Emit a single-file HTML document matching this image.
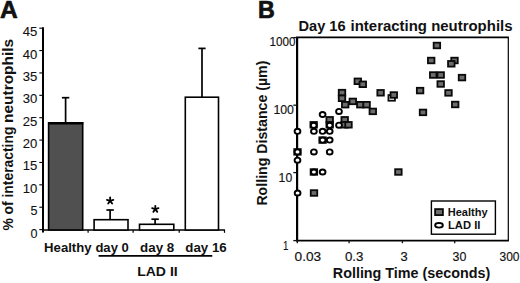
<!DOCTYPE html>
<html><head><meta charset="utf-8"><title>Figure</title>
<style>html,body{margin:0;padding:0;background:#fff;}svg{display:block;}text{font-family:"Liberation Sans",sans-serif;fill:#111;}</style>
</head><body>
<svg width="520" height="283" viewBox="0 0 520 283">
<rect width="520" height="283" fill="#fff"/>
<g id="panelA">
<text x="0" y="17.95" font-size="24.6" font-weight="bold" stroke="#111" stroke-width="0.7" stroke-linejoin="round">A</text>
<g transform="translate(13.2,230.6) rotate(-90)"><text x="0" y="0" font-size="14.5" font-weight="bold" textLength="104.00" lengthAdjust="spacingAndGlyphs" >% of interacting</text><text x="107.6" y="0" font-size="14.5" font-weight="bold" textLength="84.20" lengthAdjust="spacingAndGlyphs" >neutrophils</text></g>
<line x1="43" y1="27.3" x2="43" y2="232.6" stroke="#000" stroke-width="2"/>
<line x1="39.3" y1="229.60" x2="43" y2="229.60" stroke="#000" stroke-width="1.1"/>
<text x="30.4" y="237.6" font-size="13" font-weight="normal" textLength="7.00" lengthAdjust="spacingAndGlyphs" stroke="#111" stroke-width="0.1">0</text>
<line x1="39.3" y1="207.22" x2="43" y2="207.22" stroke="#000" stroke-width="1.1"/>
<text x="30.4" y="215.22" font-size="13" font-weight="normal" textLength="7.00" lengthAdjust="spacingAndGlyphs" stroke="#111" stroke-width="0.1">5</text>
<line x1="39.3" y1="184.84" x2="43" y2="184.84" stroke="#000" stroke-width="1.1"/>
<text x="22.799999999999997" y="192.84" font-size="13" font-weight="normal" textLength="14.60" lengthAdjust="spacingAndGlyphs" stroke="#111" stroke-width="0.1">10</text>
<line x1="39.3" y1="162.46" x2="43" y2="162.46" stroke="#000" stroke-width="1.1"/>
<text x="22.799999999999997" y="170.46" font-size="13" font-weight="normal" textLength="14.60" lengthAdjust="spacingAndGlyphs" stroke="#111" stroke-width="0.1">15</text>
<line x1="39.3" y1="140.08" x2="43" y2="140.08" stroke="#000" stroke-width="1.1"/>
<text x="22.799999999999997" y="148.08" font-size="13" font-weight="normal" textLength="14.60" lengthAdjust="spacingAndGlyphs" stroke="#111" stroke-width="0.1">20</text>
<line x1="39.3" y1="117.70" x2="43" y2="117.70" stroke="#000" stroke-width="1.1"/>
<text x="22.799999999999997" y="125.7" font-size="13" font-weight="normal" textLength="14.60" lengthAdjust="spacingAndGlyphs" stroke="#111" stroke-width="0.1">25</text>
<line x1="39.3" y1="95.32" x2="43" y2="95.32" stroke="#000" stroke-width="1.1"/>
<text x="22.799999999999997" y="103.32" font-size="13" font-weight="normal" textLength="14.60" lengthAdjust="spacingAndGlyphs" stroke="#111" stroke-width="0.1">30</text>
<line x1="39.3" y1="72.94" x2="43" y2="72.94" stroke="#000" stroke-width="1.1"/>
<text x="22.799999999999997" y="80.94" font-size="13" font-weight="normal" textLength="14.60" lengthAdjust="spacingAndGlyphs" stroke="#111" stroke-width="0.1">35</text>
<line x1="39.3" y1="50.56" x2="43" y2="50.56" stroke="#000" stroke-width="1.1"/>
<text x="22.799999999999997" y="58.56" font-size="13" font-weight="normal" textLength="14.60" lengthAdjust="spacingAndGlyphs" stroke="#111" stroke-width="0.1">40</text>
<line x1="39.3" y1="28.18" x2="43" y2="28.18" stroke="#000" stroke-width="1.1"/>
<text x="22.799999999999997" y="36.18" font-size="13" font-weight="normal" textLength="14.60" lengthAdjust="spacingAndGlyphs" stroke="#111" stroke-width="0.1">45</text>
<line x1="42" y1="230" x2="225" y2="230" stroke="#000" stroke-width="1.4"/>
<line x1="88.1" y1="230" x2="88.1" y2="232.8" stroke="#000" stroke-width="1.2"/>
<line x1="133.1" y1="230" x2="133.1" y2="232.8" stroke="#000" stroke-width="1.2"/>
<line x1="179.2" y1="230" x2="179.2" y2="232.8" stroke="#000" stroke-width="1.2"/>
<line x1="224.5" y1="230" x2="224.5" y2="232.8" stroke="#000" stroke-width="1.2"/>
<line x1="65.6" y1="97.7" x2="65.6" y2="122.8" stroke="#000" stroke-width="1.7"/>
<line x1="61.89999999999999" y1="97.7" x2="69.3" y2="97.7" stroke="#000" stroke-width="1.7"/>
<rect x="48.6" y="122.8" width="34.10" height="107.20" fill="#505050" stroke="#000" stroke-width="1.6"/>
<line x1="110.1" y1="210" x2="110.1" y2="219.7" stroke="#000" stroke-width="1.7"/>
<line x1="106.39999999999999" y1="210" x2="113.8" y2="210" stroke="#000" stroke-width="1.7"/>
<rect x="94.1" y="219.7" width="33.90" height="10.30" fill="#fff" stroke="#000" stroke-width="1.6"/>
<line x1="155.1" y1="219.2" x2="155.1" y2="224.3" stroke="#000" stroke-width="1.7"/>
<line x1="151.4" y1="219.2" x2="158.79999999999998" y2="219.2" stroke="#000" stroke-width="1.7"/>
<rect x="139.5" y="224.3" width="34.30" height="5.70" fill="#fff" stroke="#000" stroke-width="1.6"/>
<line x1="202" y1="48.4" x2="202" y2="97.2" stroke="#000" stroke-width="1.7"/>
<line x1="198.4" y1="48.4" x2="205.6" y2="48.4" stroke="#000" stroke-width="1.7"/>
<rect x="185.3" y="97.2" width="33.20" height="132.80" fill="#fff" stroke="#000" stroke-width="1.6"/>
<line x1="48" y1="123.2" x2="83.3" y2="123.2" stroke="#000" stroke-width="2.4"/>
<line x1="110.15" y1="200.85" x2="110.15" y2="197.50" stroke="#000" stroke-width="1.8" stroke-linecap="round"/><line x1="110.15" y1="200.85" x2="113.34" y2="199.81" stroke="#000" stroke-width="1.8" stroke-linecap="round"/><line x1="110.15" y1="200.85" x2="106.96" y2="199.81" stroke="#000" stroke-width="1.8" stroke-linecap="round"/><line x1="110.15" y1="200.85" x2="112.12" y2="203.56" stroke="#000" stroke-width="1.8" stroke-linecap="round"/><line x1="110.15" y1="200.85" x2="108.18" y2="203.56" stroke="#000" stroke-width="1.8" stroke-linecap="round"/>
<line x1="155.30" y1="209.15" x2="155.30" y2="205.80" stroke="#000" stroke-width="1.8" stroke-linecap="round"/><line x1="155.30" y1="209.15" x2="158.49" y2="208.11" stroke="#000" stroke-width="1.8" stroke-linecap="round"/><line x1="155.30" y1="209.15" x2="152.11" y2="208.11" stroke="#000" stroke-width="1.8" stroke-linecap="round"/><line x1="155.30" y1="209.15" x2="157.27" y2="211.86" stroke="#000" stroke-width="1.8" stroke-linecap="round"/><line x1="155.30" y1="209.15" x2="153.33" y2="211.86" stroke="#000" stroke-width="1.8" stroke-linecap="round"/>
<text x="44.1" y="252.0" font-size="12.9" font-weight="bold" textLength="47.50" lengthAdjust="spacingAndGlyphs" >Healthy</text>
<text x="95.4" y="252.0" font-size="12.9" font-weight="bold" textLength="33.40" lengthAdjust="spacingAndGlyphs" >day 0</text>
<text x="140.1" y="252.0" font-size="12.9" font-weight="bold" textLength="34.20" lengthAdjust="spacingAndGlyphs" >day 8</text>
<text x="185.3" y="252.0" font-size="12.9" font-weight="bold" textLength="41.40" lengthAdjust="spacingAndGlyphs" >day 16</text>
<line x1="98.6" y1="255.9" x2="212.3" y2="255.9" stroke="#000" stroke-width="1.8"/>
<text x="137.2" y="276" font-size="13.6" font-weight="bold" textLength="40.50" lengthAdjust="spacingAndGlyphs" >LAD II</text>
</g>
<g id="panelB">
<text x="258.1" y="18.05" font-size="24.6" textLength="16.8" lengthAdjust="spacingAndGlyphs" font-weight="bold" stroke="#111" stroke-width="0.7" stroke-linejoin="round">B</text>
<text x="298.5" y="31.0" font-size="14.5" font-weight="bold" textLength="47.10" lengthAdjust="spacingAndGlyphs" >Day 16</text><text x="350.6" y="31.0" font-size="14.5" font-weight="bold" textLength="161.90" lengthAdjust="spacingAndGlyphs" >interacting neutrophils</text>
<g transform="translate(267.4,205.6) rotate(-90)"><text x="0" y="0" font-size="14" font-weight="bold" textLength="145.00" lengthAdjust="spacingAndGlyphs" >Rolling Distance (µm)</text></g>
<line x1="296" y1="37.4" x2="508.9" y2="37.4" stroke="#000" stroke-width="1.6"/>
<line x1="508.3" y1="37.5" x2="508.3" y2="240.6" stroke="#000" stroke-width="1.2"/>
<line x1="297.1" y1="37" x2="297.1" y2="241.3" stroke="#000" stroke-width="2.2"/>
<line x1="296" y1="240.7" x2="508.9" y2="240.7" stroke="#000" stroke-width="1.7"/>
<line x1="293.3" y1="37.6" x2="297" y2="37.6" stroke="#111" stroke-width="1.3"/>
<line x1="293.3" y1="105.2" x2="297" y2="105.2" stroke="#111" stroke-width="1.3"/>
<line x1="293.3" y1="172.6" x2="297" y2="172.6" stroke="#111" stroke-width="1.3"/>
<line x1="293.3" y1="240.6" x2="297" y2="240.6" stroke="#111" stroke-width="1.3"/>
<line x1="297.3" y1="240.6" x2="297.3" y2="243.2" stroke="#111" stroke-width="1.3"/>
<line x1="349.1" y1="240.6" x2="349.1" y2="243.2" stroke="#111" stroke-width="1.3"/>
<line x1="402.4" y1="240.6" x2="402.4" y2="243.2" stroke="#111" stroke-width="1.3"/>
<line x1="454.7" y1="240.6" x2="454.7" y2="243.2" stroke="#111" stroke-width="1.3"/>
<text x="269.6" y="46.0" font-size="13.2" font-weight="normal" textLength="26.00" lengthAdjust="spacingAndGlyphs" stroke="#111" stroke-width="0.15">1000</text>
<text x="273.4" y="114.0" font-size="13.2" font-weight="normal" textLength="20.60" lengthAdjust="spacingAndGlyphs" stroke="#111" stroke-width="0.15">100</text>
<text x="278.6" y="181.8" font-size="13.2" font-weight="normal" textLength="13.60" lengthAdjust="spacingAndGlyphs" stroke="#111" stroke-width="0.15">10</text>
<text x="283.0" y="249.8" font-size="13.2" font-weight="normal" textLength="5.40" lengthAdjust="spacingAndGlyphs" stroke="#111" stroke-width="0.15">1</text>
<text x="294.6" y="260.5" font-size="13.6" font-weight="normal" textLength="26.60" lengthAdjust="spacingAndGlyphs" stroke="#111" stroke-width="0.15">0.03</text>
<text x="344.9" y="260.5" font-size="13.6" font-weight="normal" textLength="18.50" lengthAdjust="spacingAndGlyphs" stroke="#111" stroke-width="0.15">0.3</text>
<text x="400.6" y="260.5" font-size="13.6" font-weight="normal" textLength="7.20" lengthAdjust="spacingAndGlyphs" stroke="#111" stroke-width="0.15">3</text>
<text x="452.5" y="260.5" font-size="13.6" font-weight="normal" textLength="13.80" lengthAdjust="spacingAndGlyphs" stroke="#111" stroke-width="0.15">30</text>
<text x="499.5" y="260.5" font-size="13.6" font-weight="normal" textLength="20.00" lengthAdjust="spacingAndGlyphs" stroke="#111" stroke-width="0.15">300</text>
<text x="332.8" y="277.8" font-size="14.5" font-weight="bold" textLength="157.50" lengthAdjust="spacingAndGlyphs" >Rolling Time (seconds)</text>
<rect x="354.55" y="78.50" width="6.50" height="5.60" fill="#6c6c6c" stroke="#0a0a0a" stroke-width="1.8"/>
<rect x="359.55" y="81.50" width="6.50" height="5.60" fill="#6c6c6c" stroke="#0a0a0a" stroke-width="1.8"/>
<rect x="338.75" y="89.80" width="6.50" height="5.60" fill="#6c6c6c" stroke="#0a0a0a" stroke-width="1.8"/>
<rect x="338.75" y="95.50" width="6.50" height="5.60" fill="#6c6c6c" stroke="#0a0a0a" stroke-width="1.8"/>
<rect x="341.95" y="101.90" width="6.50" height="5.60" fill="#6c6c6c" stroke="#0a0a0a" stroke-width="1.8"/>
<rect x="349.55" y="98.60" width="6.50" height="5.60" fill="#6c6c6c" stroke="#0a0a0a" stroke-width="1.8"/>
<rect x="357.05" y="101.90" width="6.50" height="5.60" fill="#6c6c6c" stroke="#0a0a0a" stroke-width="1.8"/>
<rect x="363.35" y="101.90" width="6.50" height="5.60" fill="#6c6c6c" stroke="#0a0a0a" stroke-width="1.8"/>
<rect x="369.55" y="108.60" width="6.50" height="5.60" fill="#6c6c6c" stroke="#0a0a0a" stroke-width="1.8"/>
<rect x="377.35" y="90.00" width="6.50" height="5.60" fill="#6c6c6c" stroke="#0a0a0a" stroke-width="1.8"/>
<rect x="388.45" y="95.10" width="6.50" height="5.60" fill="#fff" stroke="#0a0a0a" stroke-width="1.8"/>
<rect x="390.55" y="92.20" width="6.50" height="5.60" fill="#6c6c6c" stroke="#0a0a0a" stroke-width="1.8"/>
<rect x="326.45" y="117.00" width="6.50" height="5.60" fill="#6c6c6c" stroke="#0a0a0a" stroke-width="1.8"/>
<rect x="341.45" y="117.00" width="6.50" height="5.60" fill="#6c6c6c" stroke="#0a0a0a" stroke-width="1.8"/>
<rect x="341.25" y="122.00" width="6.50" height="5.60" fill="#6c6c6c" stroke="#0a0a0a" stroke-width="1.8"/>
<rect x="345.25" y="122.00" width="6.50" height="5.60" fill="#6c6c6c" stroke="#0a0a0a" stroke-width="1.8"/>
<rect x="310.45" y="122.00" width="6.50" height="5.60" fill="#6c6c6c" stroke="#0a0a0a" stroke-width="1.8"/>
<rect x="326.45" y="122.00" width="6.50" height="5.60" fill="#6c6c6c" stroke="#0a0a0a" stroke-width="1.8"/>
<rect x="319.35" y="137.30" width="6.50" height="5.60" fill="#6c6c6c" stroke="#0a0a0a" stroke-width="1.8"/>
<rect x="294.25" y="149.10" width="6.50" height="5.60" fill="#6c6c6c" stroke="#0a0a0a" stroke-width="1.8"/>
<rect x="310.65" y="169.20" width="6.50" height="5.60" fill="#6c6c6c" stroke="#0a0a0a" stroke-width="1.8"/>
<rect x="395.15" y="169.20" width="6.50" height="5.60" fill="#6c6c6c" stroke="#0a0a0a" stroke-width="1.8"/>
<rect x="310.75" y="190.20" width="6.50" height="5.60" fill="#6c6c6c" stroke="#0a0a0a" stroke-width="1.8"/>
<rect x="433.65" y="42.70" width="6.50" height="5.60" fill="#6c6c6c" stroke="#0a0a0a" stroke-width="1.8"/>
<rect x="427.95" y="57.70" width="6.50" height="5.60" fill="#6c6c6c" stroke="#0a0a0a" stroke-width="1.8"/>
<rect x="451.25" y="57.70" width="6.50" height="5.60" fill="#6c6c6c" stroke="#0a0a0a" stroke-width="1.8"/>
<rect x="448.05" y="61.00" width="6.50" height="5.60" fill="#6c6c6c" stroke="#0a0a0a" stroke-width="1.8"/>
<rect x="429.95" y="72.20" width="6.50" height="5.60" fill="#6c6c6c" stroke="#0a0a0a" stroke-width="1.8"/>
<rect x="437.45" y="72.20" width="6.50" height="5.60" fill="#6c6c6c" stroke="#0a0a0a" stroke-width="1.8"/>
<rect x="458.75" y="74.80" width="6.50" height="5.60" fill="#6c6c6c" stroke="#0a0a0a" stroke-width="1.8"/>
<rect x="437.45" y="81.20" width="6.50" height="5.60" fill="#6c6c6c" stroke="#0a0a0a" stroke-width="1.8"/>
<rect x="416.85" y="87.80" width="6.50" height="5.60" fill="#6c6c6c" stroke="#0a0a0a" stroke-width="1.8"/>
<rect x="445.25" y="90.10" width="6.50" height="5.60" fill="#6c6c6c" stroke="#0a0a0a" stroke-width="1.8"/>
<rect x="451.95" y="101.70" width="6.50" height="5.60" fill="#6c6c6c" stroke="#0a0a0a" stroke-width="1.8"/>
<rect x="419.75" y="109.60" width="6.50" height="5.60" fill="#6c6c6c" stroke="#0a0a0a" stroke-width="1.8"/>
<ellipse cx="322.60" cy="114.50" rx="2.9" ry="2.55" fill="#fff" stroke="#000" stroke-width="1.9"/>
<ellipse cx="339.00" cy="111.40" rx="2.9" ry="2.55" fill="#fff" stroke="#000" stroke-width="1.9"/>
<ellipse cx="339.00" cy="125.20" rx="2.9" ry="2.55" fill="#fff" stroke="#000" stroke-width="1.9"/>
<ellipse cx="313.70" cy="125.30" rx="2.9" ry="2.55" fill="#fff" stroke="#000" stroke-width="1.9"/>
<ellipse cx="329.70" cy="125.30" rx="2.9" ry="2.55" fill="#fff" stroke="#000" stroke-width="1.9"/>
<ellipse cx="297.50" cy="131.30" rx="2.9" ry="2.55" fill="#fff" stroke="#000" stroke-width="1.9"/>
<ellipse cx="313.90" cy="131.30" rx="2.9" ry="2.55" fill="#fff" stroke="#000" stroke-width="1.9"/>
<ellipse cx="322.60" cy="131.30" rx="2.9" ry="2.55" fill="#fff" stroke="#000" stroke-width="1.9"/>
<ellipse cx="329.70" cy="131.30" rx="2.9" ry="2.55" fill="#fff" stroke="#000" stroke-width="1.9"/>
<ellipse cx="322.60" cy="140.10" rx="2.9" ry="2.55" fill="#fff" stroke="#000" stroke-width="1.9"/>
<ellipse cx="329.70" cy="140.10" rx="2.9" ry="2.55" fill="#fff" stroke="#000" stroke-width="1.9"/>
<ellipse cx="297.50" cy="151.90" rx="2.9" ry="2.55" fill="#fff" stroke="#000" stroke-width="1.9"/>
<ellipse cx="313.90" cy="151.90" rx="2.9" ry="2.55" fill="#fff" stroke="#000" stroke-width="1.9"/>
<ellipse cx="329.70" cy="151.90" rx="2.9" ry="2.55" fill="#fff" stroke="#000" stroke-width="1.9"/>
<ellipse cx="297.50" cy="160.20" rx="2.9" ry="2.55" fill="#fff" stroke="#000" stroke-width="1.9"/>
<ellipse cx="313.90" cy="172.00" rx="2.9" ry="2.55" fill="#fff" stroke="#000" stroke-width="1.9"/>
<ellipse cx="322.60" cy="172.00" rx="2.9" ry="2.55" fill="#fff" stroke="#000" stroke-width="1.9"/>
<ellipse cx="297.60" cy="193.00" rx="2.9" ry="2.55" fill="#fff" stroke="#000" stroke-width="1.9"/>
<rect x="431.4" y="201.0" width="64" height="33.2" fill="#fff" stroke="#000" stroke-width="1.4"/>
<rect x="435.1" y="209.1" width="7.8" height="6.0" fill="#6c6c6c" stroke="#0a0a0a" stroke-width="1.8"/>
<ellipse cx="439" cy="225.3" rx="3.85" ry="2.35" fill="#fff" stroke="#000" stroke-width="1.9"/>
<text x="447.7" y="216.1" font-size="11.6" font-weight="bold" textLength="39.90" lengthAdjust="spacingAndGlyphs" >Healthy</text>
<text x="448" y="229.3" font-size="11.6" font-weight="bold" textLength="32.40" lengthAdjust="spacingAndGlyphs" >LAD II</text>
</g>
</svg></body></html>
